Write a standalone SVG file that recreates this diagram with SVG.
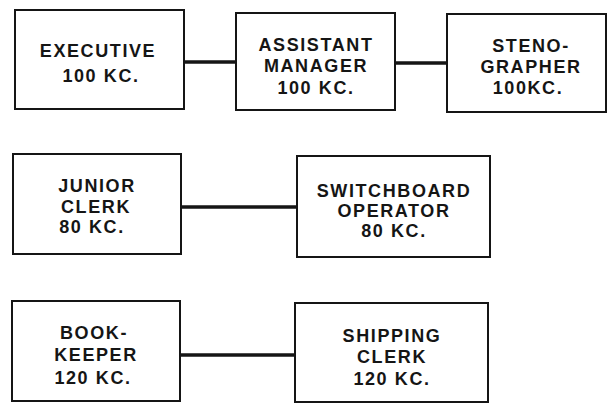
<svg xmlns="http://www.w3.org/2000/svg" width="614" height="404" viewBox="0 0 614 404">
<style>
.box{fill:#fff;stroke:#151515;stroke-width:2}
.lbl{font-family:"Liberation Sans",Arial,sans-serif;font-weight:bold;font-size:18px;letter-spacing:1.6px;fill:#151515;text-anchor:middle}
.con{stroke:#151515;stroke-width:3.5;fill:none}
</style>
<rect width="614" height="404" fill="#fff"/>
<g id="connectors">
<line class="con" x1="184" y1="62" x2="236" y2="62"/>
<line class="con" x1="395" y1="63" x2="447" y2="63"/>
<line class="con" x1="181" y1="207" x2="297" y2="207"/>
<line class="con" x1="180" y1="355" x2="295" y2="355"/>
</g>
<g id="executive">
<rect class="box" x="15" y="10" width="169" height="99"/>
<text class="lbl" x="98" y="57">EXECUTIVE</text>
<text class="lbl" x="101" y="82">100 KC.</text>
</g>
<g id="assistant-manager">
<rect class="box" x="236" y="13" width="159" height="97"/>
<text class="lbl" x="316" y="51">ASSISTANT</text>
<text class="lbl" x="316" y="72">MANAGER</text>
<text class="lbl" x="316" y="94">100 KC.</text>
</g>
<g id="stenographer">
<rect class="box" x="447" y="14" width="159" height="98"/>
<text class="lbl" x="531" y="52">STENO-</text>
<text class="lbl" x="531" y="73">GRAPHER</text>
<text class="lbl" x="528" y="94">100KC.</text>
</g>
<g id="junior-clerk">
<rect class="box" x="13" y="154" width="168" height="100"/>
<text class="lbl" x="97" y="192">JUNIOR</text>
<text class="lbl" x="96" y="213">CLERK</text>
<text class="lbl" x="92" y="233">80 KC.</text>
</g>
<g id="switchboard-operator">
<rect class="box" x="297" y="156" width="193" height="101"/>
<text class="lbl" x="394" y="197">SWITCHBOARD</text>
<text class="lbl" x="394" y="217">OPERATOR</text>
<text class="lbl" x="394" y="237">80 KC.</text>
</g>
<g id="bookkeeper">
<rect class="box" x="12" y="301" width="168" height="100"/>
<text class="lbl" x="94" y="339">BOOK-</text>
<text class="lbl" x="96" y="361">KEEPER</text>
<text class="lbl" x="93" y="384">120 KC.</text>
</g>
<g id="shipping-clerk">
<rect class="box" x="295" y="303" width="193" height="99"/>
<text class="lbl" x="392" y="342">SHIPPING</text>
<text class="lbl" x="392" y="363">CLERK</text>
<text class="lbl" x="392" y="385">120 KC.</text>
</g>
</svg>
